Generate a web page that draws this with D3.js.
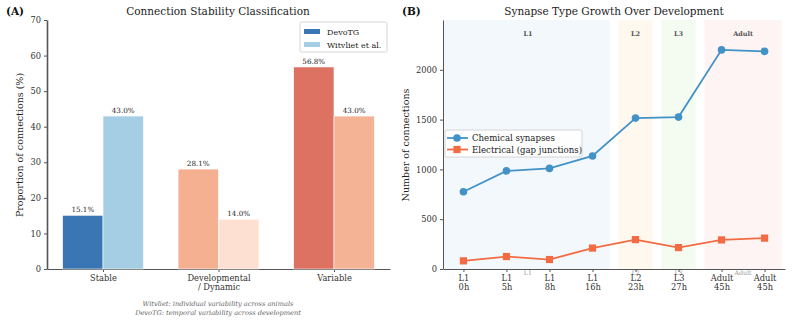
<!DOCTYPE html>
<html lang="en">
<head>
<meta charset="UTF-8">
<script src="https://d3js.org/d3.v7.min.js"></script>
<title>Connection stability and synapse growth</title>
<style>
  body { margin: 0; background: #fff; }
  svg { font-family: "DejaVu Serif", serif; }
  .tick text { fill: #333; font-size: 8.3px; font-family: "DejaVu Serif", serif; }
  .domain, .tick line { stroke: #555; }
</style>
</head>
<body>
<svg id="chart" width="793" height="322"></svg>
<script>
// panel A data
var categories = ["Stable", "Developmental\n/ Dynamic", "Variable"];
var devotg = [15.1, 28.1, 56.8];
var witvliet = [43.0, 14.0, 43.0];
var devoColors = ["#3a75b4", "#f5b092", "#dd7262"];
var witColors = ["#a5cde3", "#fde0d1", "#f5b396"];

// panel B data
var stages = ["L1\n0h", "L1\n5h", "L1\n8h", "L1\n16h", "L2\n23h", "L3\n27h", "Adult\n45h", "Adult\n45h"];
var chemical = [775, 985, 1010, 1135, 1515, 1525, 2200, 2185];
var electrical = [82, 125, 95, 210, 295, 215, 292, 310];
var spans = [
  { name: "L1", from: -0.5, to: 3.4, mid: 1.5, color: "#f3f8fc" },
  { name: "L2", from: 3.6, to: 4.4, mid: 4, color: "#fff8ef" },
  { name: "L3", from: 4.6, to: 5.4, mid: 5, color: "#f4fcf2" },
  { name: "Adult", from: 5.6, to: 7.4, mid: 6.5, color: "#fff4f4" }
];

var svg = d3.select("#chart");

function multiline(sel, lineH) {
  sel.each(function(d) {
    var t = d3.select(this), parts = String(t.text()).split("\n");
    t.text(null);
    parts.forEach(function(p, i) {
      t.append("tspan").attr("x", 0).attr("dy", i === 0 ? "0.71em" : lineH).text(p);
    });
  });
}

// ---------- panel A ----------
var xa = d3.scaleLinear().domain([-0.485, 2.485]).range([47, 390]);
var ya = d3.scaleLinear().domain([0, 70]).range([269, 20]);
var bw = 0.35;
var gA = svg.append("g");

gA.append("g").attr("transform", "translate(0,269)")
  .call(d3.axisBottom(xa).tickValues([0, 1, 2]).tickFormat(function(i) { return categories[i]; }).tickSize(3).tickSizeOuter(0))
  .call(function(g) { g.selectAll(".tick text").attr("y", 6).call(multiline, "1.1em"); });
gA.append("g").attr("transform", "translate(47,0)")
  .call(d3.axisLeft(ya).ticks(7).tickSize(3).tickSizeOuter(0))
  .call(function(g) { g.select(".domain").attr("stroke", "#888").attr("stroke-width", 1.6); });

var barsA = gA.append("g");
categories.forEach(function(c, i) {
  [[devotg[i], -1, devoColors[i]], [witvliet[i], 0, witColors[i]]].forEach(function(b) {
    var x0 = xa(i + b[1] * bw), x1 = xa(i + (b[1] + 1) * bw);
    barsA.append("rect")
      .attr("x", x0).attr("width", x1 - x0)
      .attr("y", ya(b[0])).attr("height", ya(0) - ya(b[0]))
      .attr("fill", b[2]).attr("stroke", "#fff").attr("stroke-width", 0.6);
    barsA.append("text")
      .attr("x", (x0 + x1) / 2).attr("y", ya(b[0]) - 3)
      .attr("text-anchor", "middle").attr("font-size", 7.2).attr("fill", "#222")
      .text(b[0].toFixed(1) + "%");
  });
});

gA.append("text").attr("x", 218).attr("y", 15).attr("text-anchor", "middle")
  .attr("font-size", 10.5).attr("fill", "#222").text("Connection Stability Classification");
gA.append("text").attr("x", 6).attr("y", 15).attr("font-weight", "bold")
  .attr("font-size", 10.5).attr("fill", "#111").text("(A)");
gA.append("text").attr("transform", "translate(23,145) rotate(-90)").attr("text-anchor", "middle")
  .attr("font-size", 9.5).attr("fill", "#222").text("Proportion of connections (%)");

var legA = gA.append("g").attr("transform", "translate(300,22)");
legA.append("rect").attr("width", 87).attr("height", 30).attr("fill", "#fff")
  .attr("stroke", "#ccc").attr("stroke-width", 0.8).attr("rx", 1.5);
[["DevoTG", devoColors[0]], ["Witvliet et al.", witColors[0]]].forEach(function(d, i) {
  legA.append("rect").attr("x", 4).attr("y", 7 + i * 13).attr("width", 16).attr("height", 5).attr("fill", d[1]);
  legA.append("text").attr("x", 27).attr("y", 12.5 + i * 13).attr("font-size", 8).attr("fill", "#222").text(d[0]);
});

gA.append("text").attr("x", 218).attr("y", 306).attr("text-anchor", "middle").attr("font-style", "italic")
  .attr("font-size", 6.6).attr("fill", "#666").text("Witvliet: individual variability across animals");
gA.append("text").attr("x", 218).attr("y", 314.5).attr("text-anchor", "middle").attr("font-style", "italic")
  .attr("font-size", 6.6).attr("fill", "#666").text("DevoTG: temporal variability across development");

// ---------- panel B ----------
var xb = d3.scaleLinear().domain([-0.475, 7.475]).range([443, 785]);
var yb = d3.scaleLinear().domain([0, 2500]).range([269, 20]);
var gB = svg.append("g");

gB.selectAll("rect.span").data(spans).join("rect").attr("class", "span")
  .attr("x", function(d) { return Math.max(xb(d.from), 443); })
  .attr("width", function(d) { return xb(d.to) - Math.max(xb(d.from), 443); })
  .attr("y", 20).attr("height", 249).attr("fill", function(d) { return d.color; });
gB.selectAll("text.spanlab").data(spans).join("text").attr("class", "spanlab")
  .attr("x", function(d) { return xb(d.mid); }).attr("y", 36).attr("text-anchor", "middle")
  .attr("font-size", 6.5).attr("font-weight", "bold").attr("fill", "#555").text(function(d) { return d.name; });
// faint stage names just under the axis (partly hidden behind tick labels, as drawn)
gB.selectAll("text.spanlow").data(spans).join("text").attr("class", "spanlow")
  .attr("x", function(d) { return xb(d.mid); }).attr("y", 274.5).attr("text-anchor", "middle")
  .attr("font-size", 6.3).attr("fill", "#999").text(function(d) { return d.name; });

gB.append("g").attr("transform", "translate(0,269)")
  .call(d3.axisBottom(xb).tickValues(d3.range(stages.length)).tickFormat(function(i) { return stages[i]; }).tickSize(3).tickSizeOuter(0))
  .call(function(g) { g.selectAll(".tick text").attr("y", 6).call(multiline, "1.1em"); });
gB.append("g").attr("transform", "translate(443,0)")
  .call(d3.axisLeft(yb).tickValues([0, 500, 1000, 1500, 2000]).tickFormat(d3.format("d")).tickSize(3).tickSizeOuter(0));

var series = [
  { name: "Chemical synapses", values: chemical, color: "#4292c6", marker: "circle" },
  { name: "Electrical (gap junctions)", values: electrical, color: "#f26b43", marker: "square" }
];
var line = d3.line().x(function(d, i) { return xb(i); }).y(function(d) { return yb(d); });

function drawMarker(g, kind, x, y, color) {
  if (kind === "circle") g.append("circle").attr("cx", x).attr("cy", y).attr("r", 3.8).attr("fill", color);
  else g.append("rect").attr("x", x - 3.6).attr("y", y - 3.6).attr("width", 7.2).attr("height", 7.2).attr("fill", color);
}

series.forEach(function(s) {
  var g = gB.append("g");
  g.append("path").datum(s.values).attr("d", line).attr("fill", "none")
    .attr("stroke", s.color).attr("stroke-width", 1.8);
  s.values.forEach(function(v, i) { drawMarker(g, s.marker, xb(i), yb(v), s.color); });
});

gB.append("text").attr("x", 614).attr("y", 15).attr("text-anchor", "middle")
  .attr("font-size", 10.5).attr("fill", "#222").text("Synapse Type Growth Over Development");
gB.append("text").attr("x", 402).attr("y", 15).attr("font-weight", "bold")
  .attr("font-size", 10.5).attr("fill", "#111").text("(B)");
gB.append("text").attr("transform", "translate(409,145) rotate(-90)").attr("text-anchor", "middle")
  .attr("font-size", 9.5).attr("fill", "#222").text("Number of connections");

var legB = gB.append("g").attr("transform", "translate(445,130)");
legB.append("rect").attr("width", 137).attr("height", 27).attr("fill", "#fff").attr("fill-opacity", 0.85)
  .attr("stroke", "#ccc").attr("stroke-width", 0.8).attr("rx", 1.5);
series.forEach(function(s, i) {
  var y = 8 + i * 11.5;
  legB.append("line").attr("x1", 2).attr("x2", 23).attr("y1", y).attr("y2", y)
    .attr("stroke", s.color).attr("stroke-width", 1.8);
  drawMarker(legB, s.marker, 12, y, s.color);
  legB.append("text").attr("x", 27).attr("y", y + 3).attr("font-size", 8.6).attr("fill", "#222").text(s.name);
});
</script>
</body>
</html>
